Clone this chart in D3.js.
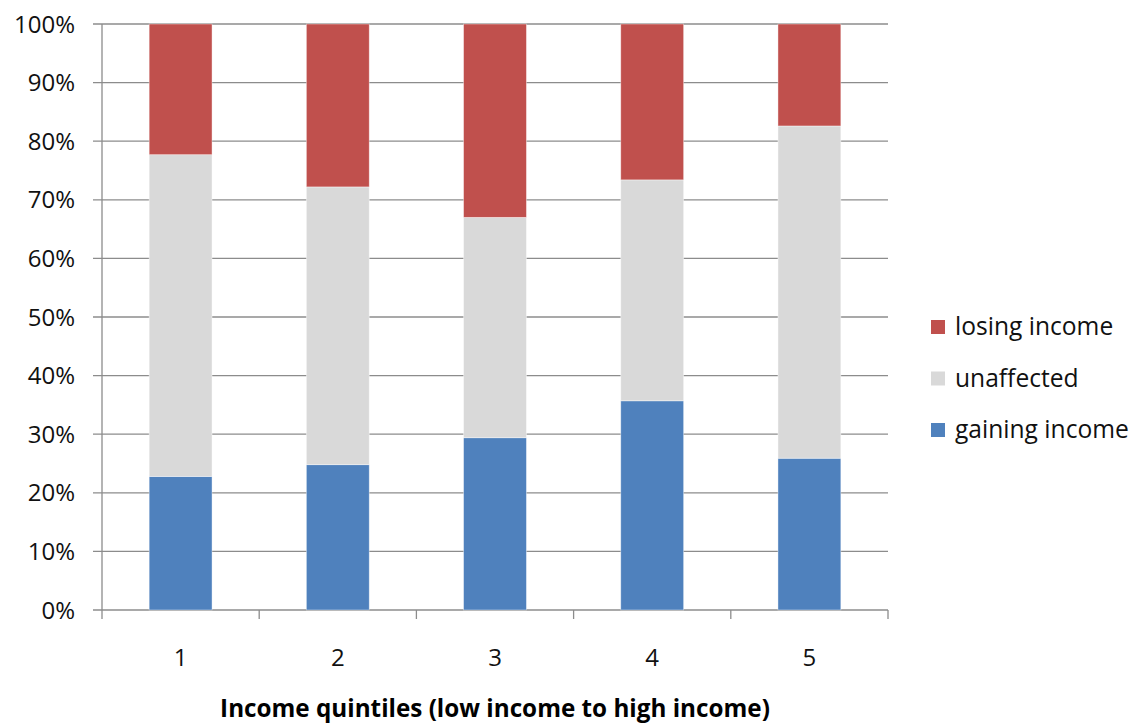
<!DOCTYPE html>
<html><head><meta charset="utf-8">
<script src="https://cdn.jsdelivr.net/npm/d3@7/dist/d3.min.js"></script>
<style>body{margin:0;background:#fff}svg{display:block}</style>
</head><body>
<svg id="c" width="1132" height="724"></svg>
<script>
const categories = ["1","2","3","4","5"];
const gaining = [22.8, 24.8, 29.4, 35.7, 25.9];
const unaffected = [54.9, 47.4, 37.6, 37.7, 56.7];
const losing = [22.3, 27.8, 33.0, 26.6, 17.4];
const seriesNames = ["gaining income","unaffected","losing income"];
const colors = ["#4F81BD","#D9D9D9","#C0504D"];
const yTicks = [0,10,20,30,40,50,60,70,80,90,100];

const svg = d3.select("#c");
const font = "'Open Sans', sans-serif";
const L=102,R=888,T=24,B=610;
const x = d3.scaleBand().domain(categories).range([L,R]).paddingInner(0.6).paddingOuter(0.3);
const xb = d3.scaleBand().domain(categories).range([L,R]);
const y = d3.scaleLinear().domain([0,100]).range([B,T]);

// gridlines
svg.append("g").selectAll("line").data(yTicks).join("line")
  .attr("x1",L-9).attr("x2",R).attr("y1",d=>y(d)).attr("y2",d=>y(d))
  .attr("stroke","#8c8c8c").attr("stroke-width",1.3);

const rows = categories.map((c,i)=>({cat:c, "gaining income":gaining[i], "unaffected":unaffected[i], "losing income":losing[i]}));
const stack = d3.stack().keys(seriesNames)(rows);
svg.append("g").selectAll("g").data(stack).join("g").attr("fill",(d,i)=>colors[i])
  .selectAll("rect").data(d=>d).join("rect")
  .attr("x",d=>x(d.data.cat)).attr("width",x.bandwidth())
  .attr("y",d=>y(Math.min(d[1],100))).attr("height",d=>y(d[0])-y(Math.min(d[1],100)))
  .attr("stroke","rgba(255,255,255,0.5)").attr("stroke-width",0.8);

// y axis line
svg.append("line").attr("x1",L).attr("x2",L).attr("y1",T).attr("y2",B).attr("stroke","#8c8c8c").attr("stroke-width",1.3);
// x axis with ticks
const xt = categories.map(c=>xb(c)).concat([R]);
svg.append("g").selectAll("line").data(xt).join("line")
  .attr("x1",d=>d).attr("x2",d=>d).attr("y1",B).attr("y2",B+9).attr("stroke","#8c8c8c").attr("stroke-width",1.3);

// y labels
svg.append("g").selectAll("text").data(yTicks).join("text")
  .attr("x",75).attr("y",d=>y(d)+8.5).attr("text-anchor","end")
  .attr("font-family",font).attr("font-size",24).attr("fill","#111")
  .text(d=>d+"%");
// x labels
svg.append("g").selectAll("text").data(categories).join("text")
  .attr("x",d=>xb(d)+xb.bandwidth()/2).attr("y",666).attr("text-anchor","middle")
  .attr("font-family",font).attr("font-size",24).attr("fill","#111")
  .text(d=>d);
// axis title
const title = svg.append("text").attr("x",495).attr("y",717).attr("text-anchor","middle")
  .attr("font-family",font).attr("font-size",24).attr("font-weight","bold").attr("fill","#000")
  .text("Income quintiles (low income to high income)");
const tl = title.node().getComputedTextLength();
title.attr("font-size", Math.min(26, 24*550/tl));

// legend
const leg = [2,1,0];
const lg = svg.append("g").selectAll("g").data(leg).join("g")
  .attr("transform",(d,i)=>`translate(931,${320+i*51.5})`);
lg.append("rect").attr("width",14).attr("height",14).attr("fill",d=>colors[d]);
lg.append("text").attr("x",24).attr("y",15).attr("font-family",font).attr("font-size",24.6).attr("fill","#111")
  .text(d=>seriesNames[d]);
</script>
</body></html>
